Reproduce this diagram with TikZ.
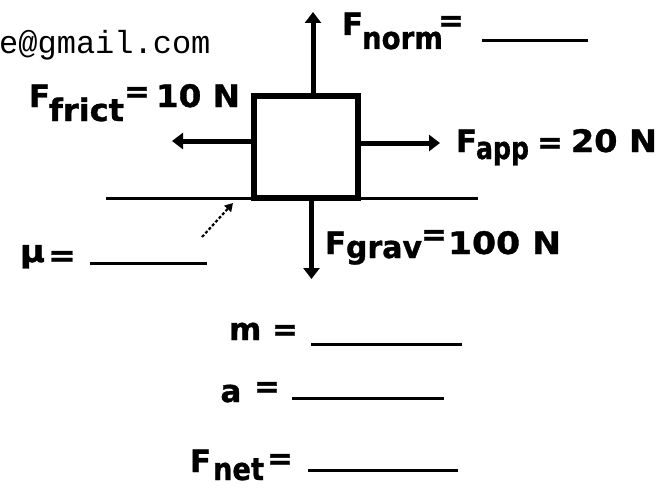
\documentclass[tikz,border=0pt]{standalone}
\usepackage{fontspec}
\setmainfont{DejaVu Sans}
\newfontfamily\lblfont{DejaVu Sans}[BoldFeatures={FakeBold=1.0}]
\newfontfamily\mailfont{Liberation Mono}
\usetikzlibrary{arrows.meta}
\newcommand\fitw[2]{\resizebox{#1}{\height}{#2}}
\begin{document}
\begin{tikzpicture}[x=1pt,y=-1pt,
  lbl/.style={font=\lblfont\fontsize{31}{34}\selectfont\bfseries, inner sep=0pt, outer sep=0pt, anchor=base west},
  forceline/.style={line width=5pt, -{Triangle[length=11pt,width=16pt]}},
  blankline/.style={line width=3pt},
  hintline/.style={line width=2.2pt, dash pattern=on 3pt off 2pt, -{Triangle[length=8pt,width=9pt]}}
]
\useasboundingbox (0,0) rectangle (660,487);

% block and ground
\node[draw, line width=6pt, minimum width=104.5pt, minimum height=101.5pt, inner sep=0pt, outer sep=0pt] (box) at (305.75,146.75) {};
\coordinate (gL) at (106,198.5);
\coordinate (gR) at (478,198.5);
\draw[line width=3.5pt] (gL) -- (gR);

% force arrows
\coordinate (nTip) at (313,12);
\draw[forceline] (box.north -| nTip) -- (nTip);
\coordinate (fTip) at (172,141);
\draw[forceline] (box.west |- fTip) -- (fTip);
\coordinate (aTip) at (440,143);
\draw[forceline] (box.east |- aTip) -- (aTip);
\coordinate (gTip) at (311.5,279);
\draw[forceline] (box.south -| gTip) -- (gTip);

% friction hint arrow
\coordinate (muS) at (202,237);
\coordinate (muT) at (233,203);
\draw[hintline] (muS) -- (muT);

% blanks
\coordinate (b1a) at (482,41);  \coordinate (b1b) at (588,41);
\draw[blankline] (b1a) -- (b1b);
\coordinate (b2a) at (90,263);  \coordinate (b2b) at (207,263);
\draw[blankline] (b2a) -- (b2b);
\coordinate (b3a) at (311,344); \coordinate (b3b) at (462,344);
\draw[blankline] (b3a) -- (b3b);
\coordinate (b4a) at (292,398); \coordinate (b4b) at (444,398);
\draw[blankline] (b4a) -- (b4b);
\coordinate (b5a) at (308,470); \coordinate (b5b) at (458,470);
\draw[blankline] (b5a) -- (b5b);

% email
\node[font=\mailfont\fontsize{32}{34}\selectfont, inner sep=0pt, anchor=base west] (email) at (-1,53) {e@gmail.com};

% F_norm
\node[lbl] (normF) at (342,35) {F};
\node[lbl] (normS) at (362,49) {\fitw{81pt}{norm}};
\node[lbl] (normE) at (438,31) {=};

% F_frict
\node[lbl] (frictF) at (29,107) {F};
\node[lbl] (frictS) at (49,121) {\fitw{75pt}{frict}};
\node[lbl] (frictE) at (124,102) {=};
\node[lbl] (frictV) at (156,107) {\fitw{84pt}{10 N}};

% F_app
\node[lbl] (appF) at (456,152) {F};
\node[lbl] (appS) at (476,159) {\fitw{53pt}{app}};
\node[lbl] (appE) at (537,153) {=};
\node[lbl] (appV) at (571,152) {\fitw{86pt}{20 N}};

% F_grav
\node[lbl] (gravF) at (325,254) {F};
\node[lbl] (gravS) at (346,258) {\fitw{76pt}{grav}};
\node[lbl] (gravE) at (421,245) {=};
\node[lbl] (gravV) at (448,254) {\fitw{113pt}{100 N}};

% mu
\node[lbl] (muL) at (20,262) {\fitw{25pt}{μ}};
\node[lbl] (muE) at (48,266) {\fitw{28pt}{=}};

% m
\node[lbl] (mL) at (229,340) {m};
\node[lbl] (mE) at (272,340) {=};

% a
\node[lbl] (aL) at (220.5,402) {a};
\node[lbl] (aE) at (254,397) {=};

% F_net
\node[lbl] (netF) at (190,472) {F};
\node[lbl] (netS) at (213,480) {\fitw{51pt}{net}};
\node[lbl] (netE) at (267,469) {=};
\end{tikzpicture}
\end{document}
